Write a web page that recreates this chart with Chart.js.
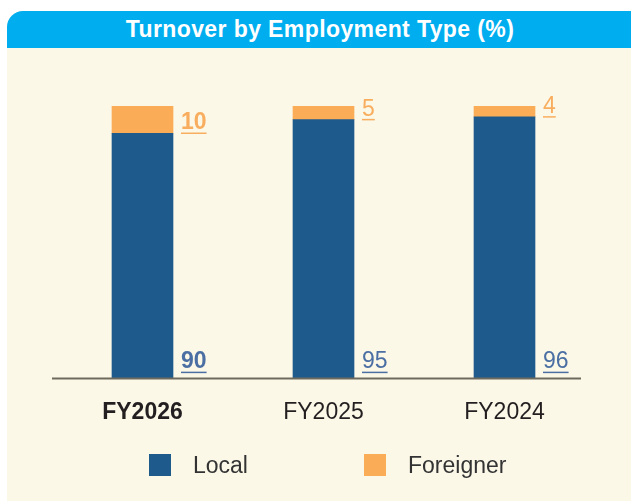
<!DOCTYPE html>
<html>
<head>
<meta charset="utf-8">
<script src="https://cdn.jsdelivr.net/npm/chart.js@4.4.1/dist/chart.umd.min.js"></script>
<style>
  html, body { margin: 0; padding: 0; background: #ffffff; overflow: hidden; }
  body { width: 631px; height: 501px; position: relative; font-family: "Liberation Sans", Arial, sans-serif; }
  #panel { position: absolute; left: 7px; top: 11px; width: 640px; height: 500px; background: #FBF8E8; border-radius: 16px 16px 0 0; overflow: hidden; }
  #header { height: 37px; background: #00AEEF; color: #fff; font-weight: bold; font-size: 23px; letter-spacing: 0.4px; line-height: 37px; text-align: center; width: 626px; }
  #wrap { position: absolute; left: 0; top: 0; width: 631px; height: 501px; }
  #legend { position: absolute; top: 454px; left: 149px; font-size: 23px; color: #333; }
  .item { position: absolute; top: 0; white-space: nowrap; }
  .box { position: absolute; top: 0; left: 0; width: 22px; height: 22px; }
  .lbl { position: absolute; left: 44px; top: -2px; line-height: 26px; }
</style>
</head>
<body>
<div id="panel"><div id="header">Turnover by Employment Type (%)</div></div>
<div id="wrap"><canvas id="turnover" width="631" height="501"></canvas></div>
<div id="legend"></div>
<script>
  'use strict';

  var years = ['FY2026', 'FY2025', 'FY2024'];
  var localValues = [90, 95, 96];
  var foreignerValues = [10, 5, 4];
  var seriesNames = ['Local', 'Foreigner'];

  var blue = '#1F5A8C';
  var orange = '#FBAC57';
  var colors = [blue, orange];
  var labelColors = ['#4B6FA3', '#F8AE5E'];

  // value labels sitting right of each bar, underlined
  var valueLabels = {
    id: 'valueLabels',
    afterDatasetsDraw: function (chart) {
      var ctx = chart.ctx;
      ctx.save();
      chart.data.datasets.forEach(function (ds, di) {
        var meta = chart.getDatasetMeta(di);
        meta.data.forEach(function (bar, i) {
          var text = String(ds.data[i]);
          var bold = i === 0;
          ctx.font = (bold ? 'bold ' : '') + '23px "Liberation Sans", Arial, sans-serif';
          ctx.textAlign = 'left';
          ctx.textBaseline = 'alphabetic';
          var x = bar.x + bar.width / 2 + 8;
          var lineY = di === 0 ? bar.base - 6 : bar.base;
          ctx.fillStyle = labelColors[di];
          ctx.fillText(text, x, lineY - 4);
          var w = ctx.measureText(text).width;
          ctx.strokeStyle = labelColors[di];
          ctx.lineWidth = 1.5;
          ctx.beginPath();
          ctx.moveTo(x, lineY);
          ctx.lineTo(x + w, lineY);
          ctx.stroke();
        });
      });
      // baseline
      var y0 = chart.scales.y.getPixelForValue(0);
      ctx.strokeStyle = '#6E6A5E';
      ctx.lineWidth = 2;
      ctx.beginPath();
      ctx.moveTo(52, y0);
      ctx.lineTo(581, y0);
      ctx.stroke();
      ctx.restore();
    }
  };

  var chart = new Chart(document.getElementById('turnover'), {
    type: 'bar',
    data: {
      labels: years,
      datasets: [
        { label: seriesNames[0], data: localValues, backgroundColor: colors[0], barThickness: 61 },
        { label: seriesNames[1], data: foreignerValues, backgroundColor: colors[1], barThickness: 61 }
      ]
    },
    options: {
      responsive: false,
      animation: false,
      layout: { padding: { left: 52, right: 36, top: 106, bottom: 55 } },
      plugins: { legend: { display: false }, tooltip: { enabled: false } },
      scales: {
        x: {
          stacked: true,
          grid: { display: false, drawTicks: false },
          border: { display: false },
          ticks: {
            padding: 20,
            color: '#231F20',
            font: function (c) {
              return { family: '"Liberation Sans", Arial, sans-serif', size: 23, weight: c.index === 0 ? 'bold' : 'normal' };
            }
          }
        },
        y: { stacked: true, display: false, min: 0, max: 100 }
      }
    },
    plugins: [valueLabels]
  });

  // legend
  var legend = document.getElementById('legend');
  seriesNames.forEach(function (name, i) {
    var item = document.createElement('div');
    item.className = 'item';
    item.style.left = (i * 215) + 'px';
    item.innerHTML = '<div class="box" style="background:' + colors[i] + '"></div><div class="lbl">' + name + '</div>';
    legend.appendChild(item);
  });
</script>
</body>
</html>
